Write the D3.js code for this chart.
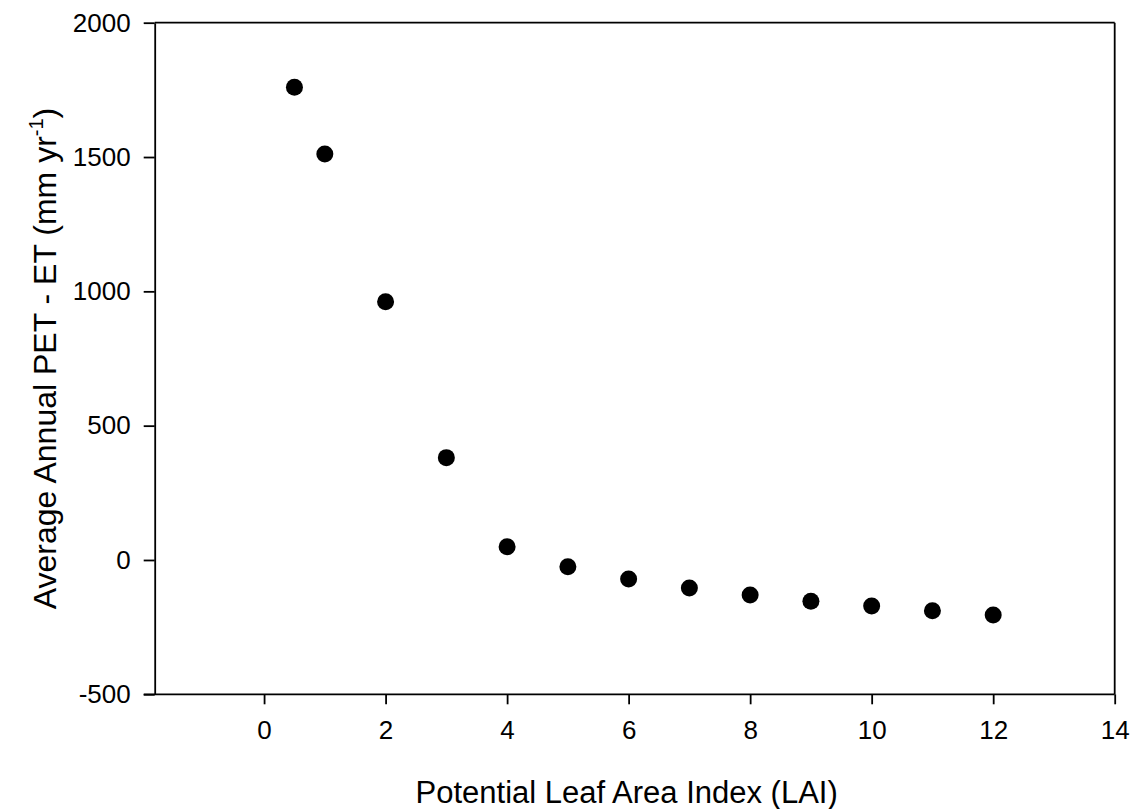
<!DOCTYPE html>
<html>
<head>
<meta charset="utf-8">
<script src="https://cdn.jsdelivr.net/npm/d3@7"></script>
<style>
    body { margin: 0; background: #fff; }
    svg { display: block; }
    text { font-family: Arial, "Liberation Sans", sans-serif; fill: #000; }
</style>
</head>
<body>
<div id="chart"></div>
<script>
// data
let lai = [0.5, 1, 2, 3, 4, 5, 6, 7, 8, 9, 10, 11, 12];
let petMinusEt = [1760, 1511, 961, 381, 49, -25, -71, -104, -130, -154, -171, -189, -205];

let xTicks = [0, 2, 4, 6, 8, 10, 12, 14];
let yTicks = [-500, 0, 500, 1000, 1500, 2000];

let width = 1135,
    height = 809;

var margin = {
    top: 22.7,
    right: 20.3,
    bottom: 114.7,
    left: 154.7
};

let plotW = width - margin.left - margin.right,
    plotH = height - margin.top - margin.bottom;

let radius = 8.5;

var svg = d3.select("#chart")
    .append("svg")
    .attr("width", width)
    .attr("height", height);

const g = svg.append("g")
    .attr("transform", "translate(" + margin.left + "," + margin.top + ")");

var x = d3.scaleLinear().domain([-1.8, 14]).range([0, plotW]);
var y = d3.scaleLinear().domain([-500, 2000]).range([plotH, 0]);

// frame: top and right edges
g.append("line")
    .attr("x1", 0).attr("x2", plotW)
    .attr("y1", 0).attr("y2", 0)
    .style("stroke", "#000").style("stroke-width", 1.8);
g.append("line")
    .attr("x1", plotW).attr("x2", plotW)
    .attr("y1", 0).attr("y2", plotH)
    .style("stroke", "#000").style("stroke-width", 1.8);

var xAxis = g.append("g")
    .attr("transform", "translate(0," + plotH + ")")
    .call(d3.axisBottom(x).tickValues(xTicks).tickFormat(d => String(d))
        .tickSize(10).tickSizeOuter(0).tickPadding(16));

var yAxis = g.append("g")
    .call(d3.axisLeft(y).tickValues(yTicks).tickFormat(d => String(d))
        .tickSize(11).tickSizeOuter(0).tickPadding(13));

[xAxis, yAxis].forEach(ax => {
    ax.select(".domain").style("stroke", "#000").style("stroke-width", 1.8);
    ax.selectAll(".tick line").style("stroke", "#000").style("stroke-width", 1.8);
    ax.selectAll(".tick text")
        .style("font-family", "Arial, 'Liberation Sans', sans-serif")
        .style("font-size", "26px")
        .style("fill", "#000");
});

// bottom axis line also runs out over the -500 tick
xAxis.select(".domain").attr("d", "M-11,0H" + plotW);

g.selectAll("circle")
    .data(lai.map((d, i) => ({ x: d, y: petMinusEt[i] })))
    .enter()
    .append("circle")
    .attr("cx", d => x(d.x))
    .attr("cy", d => y(d.y))
    .attr("r", radius)
    .style("fill", "#000");

// axis titles
svg.append("text")
    .attr("x", margin.left + plotW / 2 - 8)
    .attr("y", 803)
    .attr("text-anchor", "middle")
    .style("font-size", "31px")
    .text("Potential Leaf Area Index (LAI)");

var ytitle = svg.append("text")
    .attr("transform", "translate(56," + (margin.top + plotH / 2) + ")rotate(-90)")
    .attr("text-anchor", "middle")
    .style("font-size", "32px");

ytitle.append("tspan").text("Average Annual PET - ET (mm yr");
ytitle.append("tspan")
    .attr("dy", -13)
    .style("font-size", "20px")
    .text("-1");
ytitle.append("tspan")
    .attr("dy", 13)
    .text(")");
</script>
</body>
</html>
